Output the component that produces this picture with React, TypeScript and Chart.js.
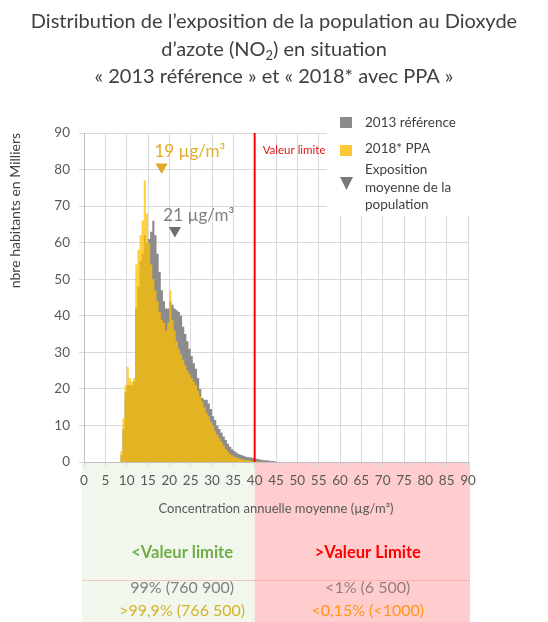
import { useEffect, useRef } from 'react';
import { Chart, registerables } from 'chart.js';

Chart.register(...registerables);

const FONT = 'Lato, "Open Sans", "DejaVu Sans", sans-serif';

// ---- Text ----
const titleLine1 = 'Distribution de l’exposition de la population au Dioxyde';
const titleLine2Before = 'd’azote (NO';
const titleLine2Sub = '2';
const titleLine2After = ') en situation';
const titleLine3 = '« 2013 référence » et « 2018* avec PPA »';

const yAxisTitle = 'nbre habitants en Milliers';
const xAxisTitle = 'Concentration annuelle moyenne (µg/m³)';
const seriesNames = ['2013 référence', '2018* PPA'];
const meanLegendLines = ['Exposition', 'moyenne de la', 'population'];
const limitLabel = 'Valeur limite';
const limitValue = 40;

// ---- Data (bins of 0.5 µg/m³, bin left edges) ----
const concentrationBinStarts = [
  8.5, 9, 9.5, 10, 10.5, 11, 11.5, 12, 12.5, 13,
  13.5, 14, 14.5, 15, 15.5, 16, 16.5, 17, 17.5, 18,
  18.5, 19, 19.5, 20, 20.5, 21, 21.5, 22, 22.5, 23,
  23.5, 24, 24.5, 25, 25.5, 26, 26.5, 27, 27.5, 28,
  28.5, 29, 29.5, 30, 30.5, 31, 31.5, 32, 32.5, 33,
  33.5, 34, 34.5, 35, 35.5, 36, 36.5, 37, 37.5, 38,
  38.5, 39, 39.5, 40, 40.5, 41, 41.5, 42, 42.5, 43,
  43.5, 44, 44.5,
];
const concentrationBinEnd = 45;

const exposure2013 = [
  2, 9, 19, 21, 21, 21, 22, 42, 48, 55,
  57, 62, 60, 61, 63, 66, 62, 57, 52, 47,
  44, 42, 42, 44, 43, 42, 41.5, 41, 40, 37,
  35, 33, 31, 29, 27, 25.5, 23, 20, 17.5, 17,
  17, 16, 14.5, 12.5, 11.5, 10, 9, 8, 7, 6,
  5, 4.2, 3.5, 3, 2.6, 2.2, 2, 1.8, 1.6, 1.4,
  1.3, 1.2, 1.1, 0.9, 0.8, 0.7, 0.6, 0.5, 0.45, 0.4,
  0.3, 0.25, 0.2,
];

const exposure2018 = [
  3, 12, 21, 26, 23, 22, 23, 54, 58, 62,
  66, 77, 68, 60, 54, 50, 47, 44, 41, 39,
  38, 36, 38, 47, 39, 36, 33, 31, 29.5, 28,
  26.5, 25, 24, 23, 22, 21, 19.5, 18, 16.5, 15,
  13.5, 12.5, 11, 10, 8.5, 7.5, 6.5, 5.5, 4.5, 3.5,
  2.8, 2.2, 1.8, 1.5, 1.2, 1, 0.8, 0.7, 0.6, 0.5,
  0.4, 0.3, 0.25, 0.2, 0.15, 0.1, 0.1, 0.05, 0, 0,
  0, 0, 0,
];

const meanPoint2013 = { x: 21.3, y: 63.3 };
const meanPoint2018 = { x: 18.2, y: 80.7 };
const meanLabel2013 = '21 µg/m³';
const meanLabel2018 = '19 µg/m³';
const meanLabelPos2013 = { x: 18.6, y: 67.3 };
const meanLabelPos2018 = { x: 16.5, y: 85 };

const tableHeaders = ['<Valeur limite', '>Valeur Limite'];
const table2013 = ['99% (760 900)', '<1% (6 500)'];
const table2018 = ['>99,9% (766 500)', '<0,15% (<1000)'];

// ---- Colours ----
const GRAY = 'rgb(140,140,140)';
const YELLOW = 'rgba(255,192,0,0.75)';
const YELLOW_SOLID = 'rgb(255,200,50)';
const GOLD_TEXT = 'rgb(228,172,38)';
const GRID = '#D9D9D9';
const TEXT = '#404040';
const TICK = '#595959';
const GREEN_BG = 'rgb(241,247,237)';
const PINK_BG = 'rgb(255,205,205)';

function histogram(values: number[]) {
  const pts = concentrationBinStarts.map((c, i) => ({ x: c, y: values[i] }));
  pts.push({ x: concentrationBinEnd, y: 0 });
  return pts;
}

const decorPlugin = {
  id: 'decor',
  beforeDraw(chart: any) {
    const { ctx, chartArea: ca, scales } = chart;
    const x = scales.x;
    const x0 = x.getPixelForValue(0);
    const xL = x.getPixelForValue(limitValue);
    const x90 = x.getPixelForValue(90);
    ctx.save();
    ctx.fillStyle = '#ffffff';
    ctx.fillRect(0, 0, chart.width, chart.height);
    ctx.fillStyle = GREEN_BG;
    ctx.fillRect(x0 - 2, ca.bottom, xL - x0 + 2, chart.height - ca.bottom);
    ctx.fillStyle = PINK_BG;
    ctx.fillRect(xL, ca.bottom, x90 - xL + 2, chart.height - ca.bottom);
    ctx.strokeStyle = 'rgba(250,150,150,0.5)';
    ctx.lineWidth = 1;
    ctx.beginPath();
    ctx.moveTo(x0 - 2, ca.bottom + 118.5);
    ctx.lineTo(x90 + 2, ca.bottom + 118.5);
    ctx.stroke();
    ctx.restore();
  },
  afterDatasetsDraw(chart: any) {
    const { ctx, chartArea: ca, scales } = chart;
    const x = scales.x;
    const y = scales.y;
    ctx.save();
    // legend box
    ctx.fillStyle = '#ffffff';
    ctx.fillRect(ca.right - 141, ca.top - 20, 146, 103);
    ctx.fillStyle = GRAY;
    ctx.fillRect(ca.right - 128, ca.top - 16, 12, 11);
    ctx.fillStyle = YELLOW_SOLID;
    ctx.fillRect(ca.right - 128, ca.top + 12, 12, 11);
    ctx.fillStyle = 'rgb(120,120,120)';
    ctx.beginPath();
    ctx.moveTo(ca.right - 128, ca.top + 44);
    ctx.lineTo(ca.right - 115, ca.top + 44);
    ctx.lineTo(ca.right - 121.5, ca.top + 57);
    ctx.closePath();
    ctx.fill();
    ctx.font = `13.5px ${FONT}`;
    ctx.fillStyle = TEXT;
    ctx.textAlign = 'left';
    ctx.textBaseline = 'middle';
    ctx.fillText(seriesNames[0], ca.right - 103, ca.top - 10);
    ctx.fillText(seriesNames[1], ca.right - 103, ca.top + 16);
    meanLegendLines.forEach((l, i) => ctx.fillText(l, ca.right - 103, ca.top + 37 + i * 17.5));

    // limit line
    const xL = x.getPixelForValue(limitValue);
    ctx.strokeStyle = '#FF0000';
    ctx.lineWidth = 2;
    ctx.beginPath();
    ctx.moveTo(xL, ca.top);
    ctx.lineTo(xL, ca.bottom);
    ctx.stroke();
    ctx.font = `11.5px ${FONT}`;
    ctx.fillStyle = '#E01515';
    ctx.fillText(limitLabel, xL + 8, ca.top + 17);

    // mean labels
    ctx.font = `17px ${FONT}`;
    ctx.fillStyle = GOLD_TEXT;
    ctx.fillText(meanLabel2018, x.getPixelForValue(meanLabelPos2018.x), y.getPixelForValue(meanLabelPos2018.y));
    ctx.fillStyle = 'rgb(128,128,128)';
    ctx.fillText(meanLabel2013, x.getPixelForValue(meanLabelPos2013.x), y.getPixelForValue(meanLabelPos2013.y));
    ctx.restore();
  },
  afterDraw(chart: any) {
    const { ctx, chartArea: ca, scales } = chart;
    const x = scales.x;
    ctx.save();
    // title
    const cx = chart.width / 2;
    const TF = `20px ${FONT}`;
    const SF = `13px ${FONT}`;
    ctx.font = TF;
    ctx.fillStyle = TEXT;
    ctx.textBaseline = 'middle';
    ctx.textAlign = 'center';
    ctx.fillText(titleLine1, cx, 22);
    ctx.fillText(titleLine3, cx, 77);
    ctx.textAlign = 'left';
    const wA = ctx.measureText(titleLine2Before).width;
    const wC = ctx.measureText(titleLine2After).width;
    ctx.font = SF;
    const wB = ctx.measureText(titleLine2Sub).width;
    const start = cx - (wA + wB + wC) / 2;
    ctx.font = TF;
    ctx.fillText(titleLine2Before, start, 50);
    ctx.fillText(titleLine2After, start + wA + wB, 50);
    ctx.font = SF;
    ctx.fillText(titleLine2Sub, start + wA, 56);

    // table
    ctx.textAlign = 'center';
    const gx = x.getPixelForValue(23);
    const px = x.getPixelForValue(66.5);
    ctx.font = `bold 16.5px ${FONT}`;
    ctx.fillStyle = 'rgb(112,173,71)';
    ctx.fillText(tableHeaders[0], gx, ca.bottom + 91);
    ctx.fillStyle = '#FF0000';
    ctx.fillText(tableHeaders[1], px, ca.bottom + 91);
    ctx.font = `16px ${FONT}`;
    ctx.fillStyle = 'rgb(128,128,128)';
    ctx.fillText(table2013[0], gx, ca.bottom + 126);
    ctx.fillStyle = 'rgb(150,125,125)';
    ctx.fillText(table2013[1], px, ca.bottom + 126);
    ctx.fillStyle = 'rgb(214,178,40)';
    ctx.fillText(table2018[0], gx, ca.bottom + 149);
    ctx.fillStyle = 'rgb(255,150,20)';
    ctx.fillText(table2018[1], px, ca.bottom + 149);
    ctx.restore();
  },
};

export default function App() {
  const ref = useRef<HTMLCanvasElement>(null);
  useEffect(() => {
    const canvas = ref.current;
    if (!canvas) return;
    const chart = new Chart(canvas, {
      type: 'line',
      data: {
        datasets: [
          {
            type: 'scatter',
            label: 'moy2018',
            data: [meanPoint2018],
            pointStyle: 'triangle',
            rotation: 180,
            pointRadius: 7,
            backgroundColor: 'rgb(226,168,40)',
            borderWidth: 0,
            order: -2,
          } as any,
          {
            type: 'scatter',
            label: 'moy2013',
            data: [meanPoint2013],
            pointStyle: 'triangle',
            rotation: 180,
            pointRadius: 7,
            backgroundColor: 'rgb(110,110,110)',
            borderWidth: 0,
            order: -1,
          } as any,
          {
            label: seriesNames[1],
            data: histogram(exposure2018),
            stepped: 'before',
            fill: 'origin',
            backgroundColor: YELLOW,
            borderColor: 'rgba(0,0,0,0)',
            borderWidth: 0,
            pointRadius: 0,
            order: 0,
          } as any,
          {
            label: seriesNames[0],
            data: histogram(exposure2013),
            stepped: 'before',
            fill: 'origin',
            backgroundColor: GRAY,
            borderColor: 'rgba(0,0,0,0)',
            borderWidth: 0,
            pointRadius: 0,
            order: 1,
          } as any,
        ],
      },
      options: {
        responsive: false,
        animation: false,
        devicePixelRatio: 1,
        events: [],
        layout: { padding: { top: 133, right: 80, bottom: 105, left: 0 } },
        plugins: {
          legend: { display: false },
          tooltip: { enabled: false },
          title: { display: false },
        },
        scales: {
          x: {
            type: 'linear',
            min: 0,
            max: 90,
            offset: false,
            afterFit: (s: any) => { s.height = 55; },
            ticks: {
              stepSize: 5,
              autoSkip: false,
              maxRotation: 0,
              color: TICK,
              padding: 6,
              font: { family: FONT, size: 13.5 },
            },
            grid: { color: GRID, offset: false, tickLength: 5 },
            border: { color: '#BFBFBF' },
            title: {
              display: true,
              text: xAxisTitle,
              color: TICK,
              font: { family: FONT, size: 13 },
              padding: { top: 3, bottom: 0 },
            },
          },
          y: {
            min: 0,
            max: 90,
            afterFit: (s: any) => { s.width = 84; },
            ticks: {
              stepSize: 10,
              color: TICK,
              padding: 9,
              font: { family: FONT, size: 13.5 },
            },
            grid: { color: GRID, tickLength: 5 },
            border: { color: '#BFBFBF' },
            title: {
              display: true,
              text: yAxisTitle,
              align: 'end',
              color: TEXT,
              font: { family: FONT, size: 14 },
              padding: { top: 7, bottom: 0 },
            },
          },
        },
      } as any,
      plugins: [decorPlugin],
    });
    return () => chart.destroy();
  }, []);
  return (
    <div style={{ position: 'fixed', left: 0, top: 0, width: 548, height: 622, background: '#fff' }}>
      <canvas ref={ref} width={548} height={622} style={{ display: 'block' }} />
    </div>
  );
}
